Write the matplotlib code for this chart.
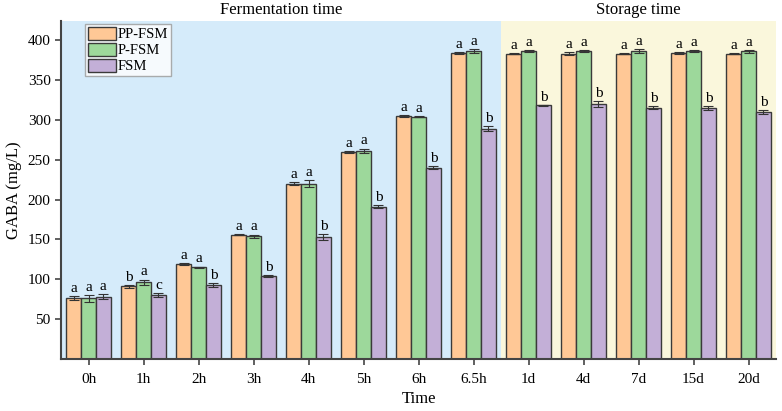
import matplotlib
matplotlib.use("Agg")
import matplotlib.pyplot as plt
import numpy as np

categories = ["0h", "1h", "2h", "3h", "4h", "5h", "6h", "6.5h", "1d", "4d", "7d", "15d", "20d"]
pp_fsm = [76, 91, 119, 156, 220, 260, 305, 384, 383, 383, 383, 383.5, 383]
p_fsm = [76, 96, 115, 154, 220, 261, 304, 386, 386, 386, 386, 386, 386]
fsm = [78, 80, 93, 104, 153, 191, 240, 289, 318, 320, 315, 315, 310]
pp_err = [2.5, 1.5, 1.5, 1.0, 1.5, 1.0, 1.0, 1.0, 1.0, 2.0, 1.0, 1.0, 1.0]
p_err = [4.0, 3.5, 1.0, 2.0, 4.0, 3.0, 1.0, 2.5, 1.0, 1.5, 2.5, 1.0, 2.0]
fsm_err = [3.0, 2.5, 2.5, 1.0, 4.0, 2.0, 2.0, 3.0, 0.5, 4.0, 2.0, 2.5, 2.5]
pp_sig = ["a", "b", "a", "a", "a", "a", "a", "a", "a", "a", "a", "a", "a"]
p_sig = ["a", "a", "a", "a", "a", "a", "a", "a", "a", "a", "a", "a", "a"]
fsm_sig = ["a", "c", "b", "b", "b", "b", "b", "b", "b", "b", "b", "b", "b"]
series_names = ["PP-FSM", "P-FSM", "FSM"]

plt.rcParams['font.family'] = ['Liberation Serif', 'DejaVu Serif']

fig = plt.figure(figsize=(7.82, 4.11), dpi=100)
ax = fig.add_axes([61/782, 1 - 359/411, (776 - 61)/782, (359 - 21)/411])

x = np.arange(len(categories))
w = 0.27
colors = ["#FFC896", "#9DD89B", "#C3AFD7"]
edge = "#3a3a3a"

ax.axvspan(-0.5, 7.5, color="#D5EBFA", zorder=0, lw=0)
ax.axvspan(7.5, 12.5, color="#FAF7DC", zorder=0, lw=0)

data = [(pp_fsm, pp_err, pp_sig), (p_fsm, p_err, p_sig), (fsm, fsm_err, fsm_sig)]
for i, (vals, errs, sigs) in enumerate(data):
    xs = x + (i - 1) * w
    ax.bar(xs, vals, width=w, color=colors[i], edgecolor=edge, linewidth=1.0,
           yerr=errs, capsize=3.5, error_kw=dict(elinewidth=0.8, ecolor="#333333", capthick=0.8),
           label=series_names[i], zorder=2)
    for xi, v, e, s in zip(xs, vals, errs, sigs):
        ax.text(xi, v + e + 1.5, s, ha="center", va="bottom", fontsize=11, zorder=3)

ax.set_xlim(-0.5, 12.5)
ax.set_ylim(0, 424)
ax.set_yticks([50, 100, 150, 200, 250, 300, 350, 400])
ax.set_xticks(x)
ax.set_xticklabels(categories)
ax.tick_params(axis="both", labelsize=11, direction="out", length=4, width=1.2, color="#444444")
ax.tick_params(axis="x", pad=6)
for s in ["top", "right"]:
    ax.spines[s].set_visible(False)
for s in ["left", "bottom"]:
    ax.spines[s].set_linewidth(1.5)
    ax.spines[s].set_color("#444444")

ax.set_xlabel("Time", fontsize=12)
ax.set_ylabel("GABA (mg/L)", fontsize=12, labelpad=4)

ax.text(3.5, 1.01, "Fermentation time", transform=ax.get_xaxis_transform(),
        ha="center", va="bottom", fontsize=12)
ax.text(10.0, 1.01, "Storage time", transform=ax.get_xaxis_transform(),
        ha="center", va="bottom", fontsize=12)

leg = ax.legend(loc="upper left", bbox_to_anchor=(0.03, 1.0), fontsize=10.5, frameon=True,
                fancybox=False, edgecolor="#999999", borderpad=0.2, labelspacing=0.1,
                handlelength=1.9, handleheight=1.0, handletextpad=0.1, borderaxespad=0.2)
leg.get_frame().set_linewidth(1.0)

fig.savefig("out.png", dpi=100)
